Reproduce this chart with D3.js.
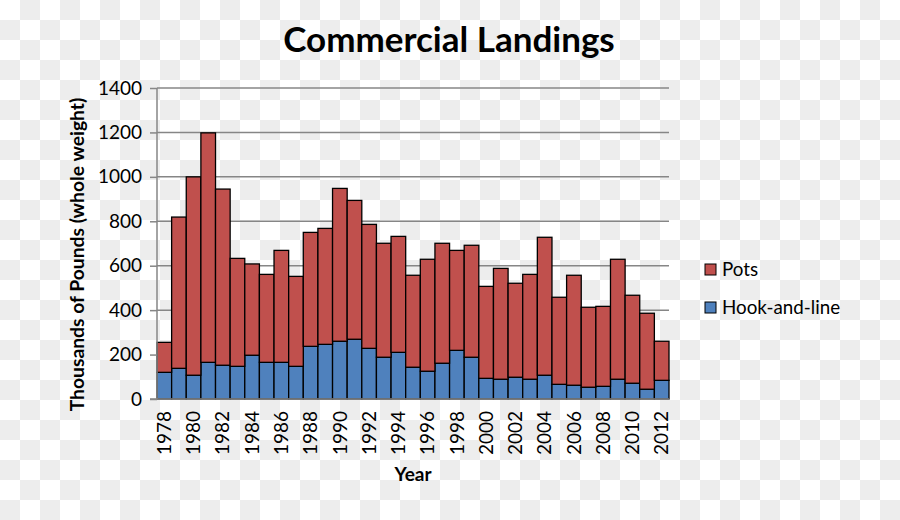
<!DOCTYPE html>
<html>
<head>
<meta charset="utf-8">
<script src="https://cdn.jsdelivr.net/npm/d3@7"></script>
<style>
  body { margin: 0; }
  svg { display: block; }
  text { font-family: Lato, "Open Sans", sans-serif; fill: #000; }
</style>
</head>
<body>
<div class="container"></div>
<script>
// values (thousands of pounds)
const years = d3.range(1978, 2013);
const totals = [255, 819, 1000, 1198, 945, 633, 608, 561, 669, 552, 750, 768,
  948, 894, 786, 701, 732, 557, 629, 701, 669, 692, 507, 588, 521, 561, 728,
  458, 557, 413, 417, 629, 467, 386, 260];
const hookAndLine = [120, 138, 107, 165, 152, 147, 197, 165, 165, 147, 237, 246,
  260, 269, 228, 188, 210, 143, 125, 161, 219, 188, 93, 89, 98, 89, 107,
  66, 62, 53, 57, 89, 71, 44, 84];
const pots = totals.map((t, i) => t - hookAndLine[i]);
const yTicks = [0, 200, 400, 600, 800, 1000, 1200, 1400];
const seriesNames = ["Hook-and-line", "Pots"];
const colors = { "Hook-and-line": "#4f81bd", "Pots": "#c0504d" };

const width = 900;
const height = 520;
const marginLeft = 157;
const marginRight = 231;
const marginTop = 88;
const marginBottom = 121;

const svg = d3.select(".container").append("svg")
  .attr("width", width)
  .attr("height", height);

// checkered background
const defs = svg.append("defs");
const pat = defs.append("pattern")
  .attr("id", "checker")
  .attr("width", 40).attr("height", 40)
  .attr("patternUnits", "userSpaceOnUse");
pat.append("rect").attr("width", 40).attr("height", 40).attr("fill", "#ffffff");
pat.append("rect").attr("x", 20).attr("y", 0).attr("width", 20).attr("height", 20).attr("fill", "#ededed");
pat.append("rect").attr("x", 0).attr("y", 20).attr("width", 20).attr("height", 20).attr("fill", "#ededed");
svg.append("rect").attr("width", width).attr("height", height).attr("fill", "url(#checker)");

const x = d3.scaleBand()
  .domain(years)
  .range([marginLeft, width - marginRight])
  .padding(0);

const y = d3.scaleLinear()
  .domain([0, 1400])
  .range([height - marginBottom, marginTop]);

// gridlines
svg.append("g")
  .selectAll("line")
  .data(yTicks.slice(1))
  .join("line")
  .attr("x1", marginLeft)
  .attr("x2", width - marginRight)
  .attr("y1", d => y(d))
  .attr("y2", d => y(d))
  .attr("stroke", "#868686")
  .attr("stroke-width", 1.5);

// stacked bars
const table = years.map((yr, i) => ({ year: yr, "Hook-and-line": hookAndLine[i], "Pots": pots[i] }));
const stack = d3.stack().keys(seriesNames)(table);

svg.append("g")
  .selectAll("g")
  .data(stack)
  .join("g")
  .attr("fill", d => colors[d.key])
  .selectAll("rect")
  .data(d => d)
  .join("rect")
  .attr("x", d => x(d.data.year))
  .attr("y", d => y(d[1]))
  .attr("width", x.bandwidth())
  .attr("height", d => y(d[0]) - y(d[1]))
  .attr("stroke", "#000")
  .attr("stroke-width", 1.3);

// y axis
const yAxis = svg.append("g")
  .attr("transform", `translate(${marginLeft},0)`)
  .call(d3.axisLeft(y).tickValues(yTicks).tickFormat(d3.format("d")).tickSize(7).tickPadding(8));
yAxis.selectAll("line, path").attr("stroke", "#868686").attr("stroke-width", 1.5);
yAxis.select(".domain").attr("d", `M0,${y(0)}V${y(1400)}`);
yAxis.selectAll("text").style("font-size", "19px").attr("font-family", "Lato, sans-serif");

// x axis
const xAxis = svg.append("g")
  .attr("transform", `translate(0,${height - marginBottom})`)
  .call(d3.axisBottom(x)
    .tickValues(years.filter(d => (d - 1978) % 2 === 0))
    .tickSize(0)
    .tickPadding(0));
xAxis.select(".domain")
  .attr("d", `M${marginLeft - 7},0H${width - marginRight}`)
  .attr("stroke", "#868686").attr("stroke-width", 1.5);
xAxis.selectAll("text")
  .attr("transform", "translate(0,12) rotate(-90)")
  .attr("text-anchor", "end")
  .attr("x", 0)
  .attr("y", 0)
  .attr("dy", "0.35em")
  .style("font-size", "19px");

// titles
svg.append("text")
  .attr("x", 449)
  .attr("y", 52)
  .attr("text-anchor", "middle")
  .style("font-size", "35px")
  .style("font-weight", "bold")
  .text("Commercial Landings");

svg.append("text")
  .attr("x", (marginLeft + width - marginRight) / 2)
  .attr("y", 481)
  .attr("text-anchor", "middle")
  .style("font-size", "19px")
  .style("font-weight", "bold")
  .text("Year");

svg.append("text")
  .attr("transform", `translate(84,${(marginTop + height - marginBottom) / 2 + 11}) rotate(-90)`)
  .attr("text-anchor", "middle")
  .style("font-size", "19.3px")
  .style("font-weight", "bold")
  .text("Thousands of Pounds (whole weight)");

// legend
const legend = svg.append("g")
  .selectAll("g")
  .data(["Pots", "Hook-and-line"])
  .join("g")
  .attr("transform", (d, i) => `translate(705,${264 + i * 38})`);
legend.append("rect")
  .attr("width", 11).attr("height", 11)
  .attr("fill", d => colors[d])
  .attr("stroke", "#000").attr("stroke-width", 1);
legend.append("text")
  .attr("x", 17)
  .attr("y", 12)
  .style("font-size", "18.8px")
  .text(d => d);
</script>
</body>
</html>
